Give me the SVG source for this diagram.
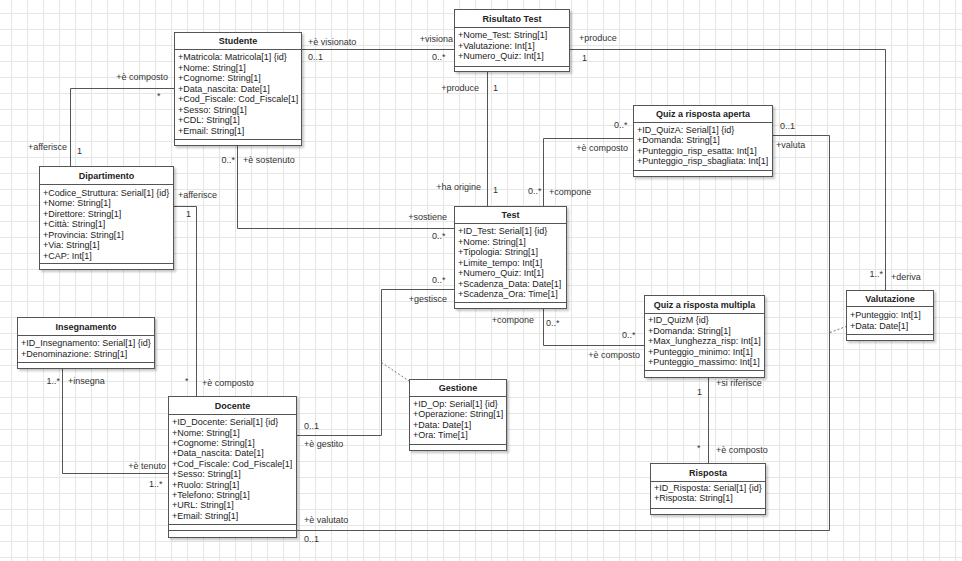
<svg xmlns="http://www.w3.org/2000/svg" width="962" height="561" viewBox="0 0 962 561">
<defs>
<pattern id="grid" x="11" y="13" width="16" height="16" patternUnits="userSpaceOnUse">
<path d="M0.5 0 V16 M0 0.5 H16" stroke="#e6e6e6" stroke-width="1" fill="none"/>
</pattern>
<filter id="sh" x="-10%" y="-10%" width="130%" height="130%">
<feDropShadow dx="2" dy="2" stdDeviation="1.2" flood-color="#000" flood-opacity="0.22"/>
</filter>
<style>
.box{fill:#fff;stroke:#555;stroke-width:1;filter:url(#sh)}
.sep{stroke:#555;stroke-width:1;fill:none}
.t{font-family:"Liberation Sans",Arial,sans-serif;font-size:9px;fill:#222}
.h{font-family:"Liberation Sans",Arial,sans-serif;font-size:9px;font-weight:bold;fill:#222;text-anchor:middle}
.lbl{font-family:"Liberation Sans",Arial,sans-serif;font-size:9px;fill:#333}
.e{text-anchor:end}
.ln{stroke:#555;stroke-width:1;fill:none}
.dash{stroke:#777;stroke-width:1;fill:none;stroke-dasharray:2 2}
</style>
</defs>
<rect x="0" y="0" width="962" height="561" fill="#fff"/>
<rect x="0" y="0" width="962" height="561" fill="url(#grid)"/>

<g id="connectors">
<path class="ln" d="M174 88.5 H70.5 V166.5"/>
<path class="ln" d="M302 49.5 H454"/>
<path class="ln" d="M487.5 71.5 V206"/>
<path class="ln" d="M569.5 49.5 H885.5 V290"/>
<path class="ln" d="M543.5 206 V138.5 H633"/>
<path class="ln" d="M543.5 308.5 V345.5 H644"/>
<path class="ln" d="M237.5 146 V228.5 H454"/>
<path class="ln" d="M174 206.5 H196.5 V396.5"/>
<path class="ln" d="M62.5 368.5 V473.5 H168"/>
<path class="ln" d="M296.5 435.5 H381.5 V289.5 H454"/>
<path class="ln" d="M296.5 530.5 H829.5 V135.5 H772.5"/>
<path class="ln" d="M708.5 377.5 V463.5"/>
<path class="dash" d="M381.5 362.5 L409 381"/>
<path class="dash" d="M830 332.5 L846 326.5"/>

<text class="lbl e" x="168" y="80">+è composto</text>
<text class="lbl" x="157" y="99">*</text>
<text class="lbl" x="28" y="150">+afferisce</text>
<text class="lbl" x="77" y="154">1</text>

<text class="lbl" x="308" y="45">+è visionato</text>
<text class="lbl" x="308" y="60">0..1</text>
<text class="lbl e" x="453" y="41.5">+visiona</text>
<text class="lbl" x="432" y="60">0..*</text>

<text class="lbl e" x="479" y="91">+produce</text>
<text class="lbl" x="493" y="91">1</text>
<text class="lbl e" x="481" y="190">+ha origine</text>
<text class="lbl" x="493" y="193">1</text>

<text class="lbl" x="579" y="41">+produce</text>
<text class="lbl" x="582" y="60.5">1</text>
<text class="lbl e" x="883" y="277">1..*</text>
<text class="lbl" x="891" y="280">+deriva</text>

<text class="lbl" x="614" y="128">0..*</text>
<text class="lbl e" x="628" y="151">+è composto</text>
<text class="lbl" x="528" y="194">0..*</text>
<text class="lbl" x="549" y="195">+compone</text>

<text class="lbl e" x="534" y="323">+compone</text>
<text class="lbl" x="546" y="326">0..*</text>
<text class="lbl" x="622" y="338">0..*</text>
<text class="lbl e" x="640" y="358">+è composto</text>

<text class="lbl e" x="235" y="162.5">0..*</text>
<text class="lbl" x="243" y="162.5">+è sostenuto</text>
<text class="lbl e" x="447" y="220">+sostiene</text>
<text class="lbl" x="432" y="239">0..*</text>

<text class="lbl" x="178" y="198">+afferisce</text>
<text class="lbl" x="186" y="216.5">1</text>
<text class="lbl" x="185" y="384">*</text>
<text class="lbl" x="202" y="386">+è composto</text>

<text class="lbl e" x="60" y="384">1..*</text>
<text class="lbl" x="68" y="384">+insegna</text>
<text class="lbl e" x="166" y="469">+è tenuto</text>
<text class="lbl" x="149" y="486.5">1..*</text>

<text class="lbl" x="304" y="429">0..1</text>
<text class="lbl" x="304" y="447">+è gestito</text>
<text class="lbl" x="432" y="282.5">0..*</text>
<text class="lbl e" x="447" y="302">+gestisce</text>

<text class="lbl" x="780" y="129">0..1</text>
<text class="lbl" x="776" y="147.5">+valuta</text>
<text class="lbl" x="304" y="523">+è valutato</text>
<text class="lbl" x="304" y="542">0..1</text>

<text class="lbl" x="697" y="395">1</text>
<text class="lbl" x="716" y="386">+si riferisce</text>
<text class="lbl" x="697" y="451">*</text>
<text class="lbl" x="716" y="453">+è composto</text>
</g>

<g id="studente">
<rect class="box" x="174.5" y="32.5" width="127" height="113"/>
<path class="sep" d="M174.5 49.5 H301.5 M174.5 139.5 H301.5"/>
<text class="h" x="238" y="44.3">Studente</text>
<text class="t" x="178" y="60"><tspan x="178">+Matricola: Matricola[1] {id}</tspan><tspan x="178" dy="10.5">+Nome: String[1]</tspan><tspan x="178" dy="10.5">+Cognome: String[1]</tspan><tspan x="178" dy="10.5">+Data_nascita: Date[1]</tspan><tspan x="178" dy="10.5">+Cod_Fiscale: Cod_Fiscale[1]</tspan><tspan x="178" dy="10.5">+Sesso: String[1]</tspan><tspan x="178" dy="10.5">+CDL: String[1]</tspan><tspan x="178" dy="10.5">+Email: String[1]</tspan></text>
</g>

<g id="risultato-test">
<rect class="box" x="454.5" y="9.5" width="115" height="62"/>
<path class="sep" d="M454.5 27.5 H569.5 M454.5 66.5 H569.5"/>
<text class="h" x="512" y="21.8">Risultato Test</text>
<text class="t" x="458" y="38"><tspan x="458">+Nome_Test: String[1]</tspan><tspan x="458" dy="10.6">+Valutazione: Int[1]</tspan><tspan x="458" dy="10.6">+Numero_Quiz: Int[1]</tspan></text>
</g>

<g id="dipartimento">
<rect class="box" x="39.5" y="166.5" width="134" height="103"/>
<path class="sep" d="M39.5 184.5 H173.5 M39.5 263.5 H173.5"/>
<text class="h" x="106.5" y="178.8">Dipartimento</text>
<text class="t" x="43" y="195.5"><tspan x="43">+Codice_Struttura: Serial[1] {id}</tspan><tspan x="43" dy="10.5">+Nome: String[1]</tspan><tspan x="43" dy="10.5">+Direttore: String[1]</tspan><tspan x="43" dy="10.5">+Città: String[1]</tspan><tspan x="43" dy="10.5">+Provincia: String[1]</tspan><tspan x="43" dy="10.5">+Via: String[1]</tspan><tspan x="43" dy="10.5">+CAP: Int[1]</tspan></text>
</g>

<g id="insegnamento">
<rect class="box" x="17.5" y="317.5" width="137" height="51"/>
<path class="sep" d="M17.5 335.5 H154.5 M17.5 362.5 H154.5"/>
<text class="h" x="86" y="330">Insegnamento</text>
<text class="t" x="21" y="346"><tspan x="21">+ID_Insegnamento: Serial[1] {id}</tspan><tspan x="21" dy="10.5">+Denominazione: String[1]</tspan></text>
</g>

<g id="docente">
<rect class="box" x="168.5" y="396.5" width="128" height="141"/>
<path class="sep" d="M168.5 414.5 H296.5 M168.5 524.5 H296.5 M168.5 530.5 H296.5"/>
<text class="h" x="232.5" y="409">Docente</text>
<text class="t" x="172" y="425.3"><tspan x="172">+ID_Docente: Serial[1] {id}</tspan><tspan x="172" dy="10.37">+Nome: String[1]</tspan><tspan x="172" dy="10.37">+Cognome: String[1]</tspan><tspan x="172" dy="10.37">+Data_nascita: Date[1]</tspan><tspan x="172" dy="10.37">+Cod_Fiscale: Cod_Fiscale[1]</tspan><tspan x="172" dy="10.37">+Sesso: String[1]</tspan><tspan x="172" dy="10.37">+Ruolo: String[1]</tspan><tspan x="172" dy="10.37">+Telefono: String[1]</tspan><tspan x="172" dy="10.37">+URL: String[1]</tspan><tspan x="172" dy="10.37">+Email: String[1]</tspan></text>
</g>

<g id="test">
<rect class="box" x="454.5" y="206.5" width="112" height="102"/>
<path class="sep" d="M454.5 223.5 H566.5 M454.5 302.5 H566.5"/>
<text class="h" x="510.5" y="218.3">Test</text>
<text class="t" x="458" y="234"><tspan x="458">+ID_Test: Serial[1] {id}</tspan><tspan x="458" dy="10.5">+Nome: String[1]</tspan><tspan x="458" dy="10.5">+Tipologia: String[1]</tspan><tspan x="458" dy="10.5">+Limite_tempo: Int[1]</tspan><tspan x="458" dy="10.5">+Numero_Quiz: Int[1]</tspan><tspan x="458" dy="10.5">+Scadenza_Data: Date[1]</tspan><tspan x="458" dy="10.5">+Scadenza_Ora: Time[1]</tspan></text>
</g>

<g id="gestione">
<rect class="box" x="409.5" y="379.5" width="97" height="71"/>
<path class="sep" d="M409.5 396.5 H506.5 M409.5 444.5 H506.5"/>
<text class="h" x="458" y="391.3">Gestione</text>
<text class="t" x="413" y="406.6"><tspan x="413">+ID_Op: Serial[1] {id}</tspan><tspan x="413" dy="10.5">+Operazione: String[1]</tspan><tspan x="413" dy="10.5">+Data: Date[1]</tspan><tspan x="413" dy="10.5">+Ora: Time[1]</tspan></text>
</g>

<g id="quiz-aperta">
<rect class="box" x="633.5" y="105.5" width="139" height="71"/>
<path class="sep" d="M633.5 122.5 H772.5 M633.5 170.5 H772.5"/>
<text class="h" x="703" y="117.3">Quiz a risposta aperta</text>
<text class="t" x="637" y="132.6"><tspan x="637">+ID_QuizA: Serial[1] {id}</tspan><tspan x="637" dy="10.5">+Domanda: String[1]</tspan><tspan x="637" dy="10.5">+Punteggio_risp_esatta: Int[1]</tspan><tspan x="637" dy="10.5">+Punteggio_risp_sbagliata: Int[1]</tspan></text>
</g>

<g id="quiz-multipla">
<rect class="box" x="644.5" y="295.5" width="120" height="82"/>
<path class="sep" d="M644.5 313.5 H764.5 M644.5 370.5 H764.5"/>
<text class="h" x="704.5" y="307.8">Quiz a risposta multipla</text>
<text class="t" x="648" y="323"><tspan x="648">+ID_QuizM {id}</tspan><tspan x="648" dy="10.5">+Domanda: String[1]</tspan><tspan x="648" dy="10.5">+Max_lunghezza_risp: Int[1]</tspan><tspan x="648" dy="10.5">+Punteggio_minimo: Int[1]</tspan><tspan x="648" dy="10.5">+Punteggio_massimo: Int[1]</tspan></text>
</g>

<g id="risposta">
<rect class="box" x="650.5" y="463.5" width="115" height="51"/>
<path class="sep" d="M650.5 481.5 H765.5 M650.5 508.5 H765.5"/>
<text class="h" x="708" y="475.8">Risposta</text>
<text class="t" x="654" y="490.6"><tspan x="654">+ID_Risposta: Serial[1] {id}</tspan><tspan x="654" dy="10.5">+Risposta: String[1]</tspan></text>
</g>

<g id="valutazione">
<rect class="box" x="846.5" y="290.5" width="87" height="50"/>
<path class="sep" d="M846.5 306.5 H933.5 M846.5 334.5 H933.5"/>
<text class="h" x="890" y="302">Valutazione</text>
<text class="t" x="850" y="318"><tspan x="850">+Punteggio: Int[1]</tspan><tspan x="850" dy="10.5">+Data: Date[1]</tspan></text>
</g>
</svg>
